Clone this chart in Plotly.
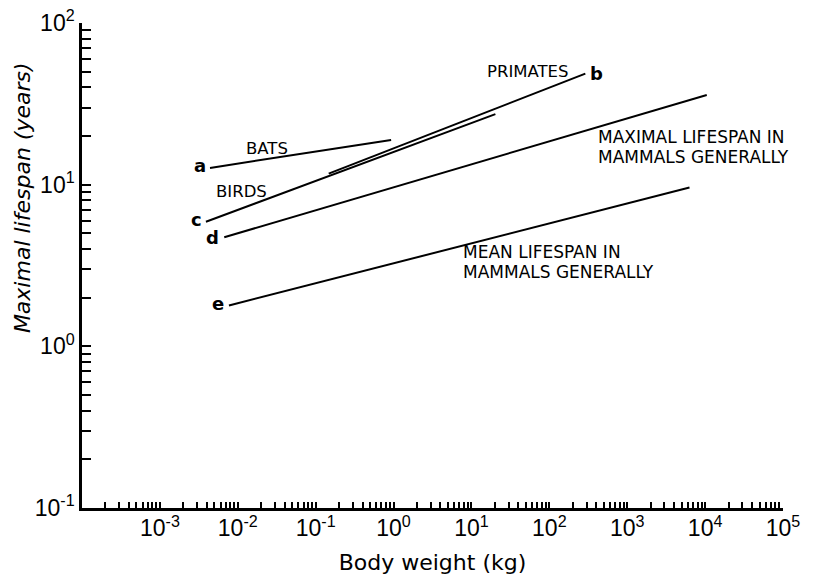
import math
import plotly.graph_objects as go

# Regression lines: lifespan (years) against body weight (kg), end points
bats_w = [4.4e-3, 0.93]
bats_life = [12.7, 18.9]

birds_w = [3.9e-3, 20.3]
birds_life = [5.9, 27.3]

primates_w = [0.147, 290]
primates_life = [11.7, 48.6]

max_mammals_w = [6.7e-3, 1.05e4]
max_mammals_life = [4.73, 35.9]

mean_mammals_w = [7.7e-3, 6300]
mean_mammals_life = [1.79, 9.6]

# Axis tick decades
x_decades = [-3, -2, -1, 0, 1, 2, 3, 4, 5]
y_decades = [-1, 0, 1, 2]

INK = "black"
FONT = "DejaVu Sans"

fig = go.Figure()

series = [
    (bats_w, bats_life),
    (birds_w, birds_life),
    (primates_w, primates_life),
    (max_mammals_w, max_mammals_life),
    (mean_mammals_w, mean_mammals_life),
]
for xs, ys in series:
    fig.add_trace(go.Scatter(x=xs, y=ys, mode="lines",
                             line=dict(color=INK, width=2),
                             showlegend=False, hoverinfo="skip"))


def decade_ticks(decades):
    vals = [10.0 ** k for k in decades]
    text = [f"10<sup>{k}</sup>" for k in decades]
    return vals, text


def minor_ticks(first, last):
    return [m * 10.0 ** k for k in range(first, last) for m in range(2, 10)]


xv, xt = decade_ticks(x_decades)
yv, yt = decade_ticks(y_decades)

fig.update_xaxes(type="log", range=[-4, 5], showline=True, linecolor=INK,
                 linewidth=2.5, ticks="inside", ticklen=6, tickwidth=2,
                 tickcolor=INK, tickvals=xv, ticktext=xt, showgrid=False,
                 zeroline=False, ticklabelstandoff=-2, automargin=False,
                 minor=dict(tickvals=minor_ticks(-4, 5), ticks="inside",
                            ticklen=6, tickwidth=2, tickcolor=INK,
                            showgrid=False),
                 tickfont=dict(family="Liberation Sans", size=23, color=INK),
                 title=dict(text="Body weight (kg)", standoff=16,
                            font=dict(family=FONT, size=22, color=INK)))
fig.update_yaxes(type="log", range=[-1, 2], showline=True, linecolor=INK,
                 linewidth=2.5, ticks="inside", ticklen=9, tickwidth=2,
                 tickcolor=INK, tickvals=yv, ticktext=yt, showgrid=False,
                 zeroline=False, ticklabelstandoff=0, automargin=False,
                 minor=dict(tickvals=minor_ticks(-1, 2), ticks="inside",
                            ticklen=9, tickwidth=2, tickcolor=INK,
                            showgrid=False),
                 tickfont=dict(family="Liberation Sans", size=23, color=INK))

annotations = []


def label(text, lx, ly, size=17, xanchor="center", bold=False,
          xshift=0, yshift=0):
    annotations.append(dict(
        text=text, x=lx, y=ly, xref="x", yref="y", showarrow=False,
        xanchor=xanchor, yanchor="middle", xshift=xshift, yshift=yshift,
        borderpad=0,
        font=dict(family=FONT, size=size, color=INK,
                  weight="bold" if bold else "normal")))


# Curve names
label("BATS", -1.622, 1.225, size=16.5)
label("BIRDS", -1.949, 0.957, size=16.5)
label("PRIMATES", 2.269, 1.698, size=16.5, xanchor="right")
label("MAXIMAL LIFESPAN IN", 2.612, 1.293, xanchor="left")
label("MAMMALS GENERALLY", 2.612, 1.170, xanchor="left")
label("MEAN LIFESPAN IN", 0.881, 0.586, xanchor="left")
label("MAMMALS GENERALLY", 0.881, 0.457, xanchor="left")

# Curve letters at the line ends
lg = math.log10
label("a", lg(bats_w[0]), lg(bats_life[0]), size=18, bold=True,
      xanchor="right", xshift=-3, yshift=2)
label("c", lg(birds_w[0]), lg(birds_life[0]), size=18, bold=True,
      xanchor="right", xshift=-3, yshift=2)
label("d", lg(max_mammals_w[0]), lg(max_mammals_life[0]), size=18, bold=True,
      xanchor="right", xshift=-4)
label("e", lg(mean_mammals_w[0]), lg(mean_mammals_life[0]), size=18, bold=True,
      xanchor="right", xshift=-4, yshift=2)
label("b", lg(primates_w[1]), lg(primates_life[1]), size=18, bold=True,
      xanchor="left", xshift=4)

# Vertical axis title
annotations.append(dict(
    text="<i>Maximal lifespan (years)</i>", xref="paper", yref="paper",
    x=-0.0856, y=0.641, showarrow=False, textangle=-90,
    xanchor="center", yanchor="middle",
    font=dict(family=FONT, size=22, color=INK)))

fig.update_layout(
    width=828, height=575,
    margin=dict(l=82, r=45, t=23, b=67),
    paper_bgcolor="white", plot_bgcolor="white",
    annotations=annotations,
)

fig.write_html("out.html")
